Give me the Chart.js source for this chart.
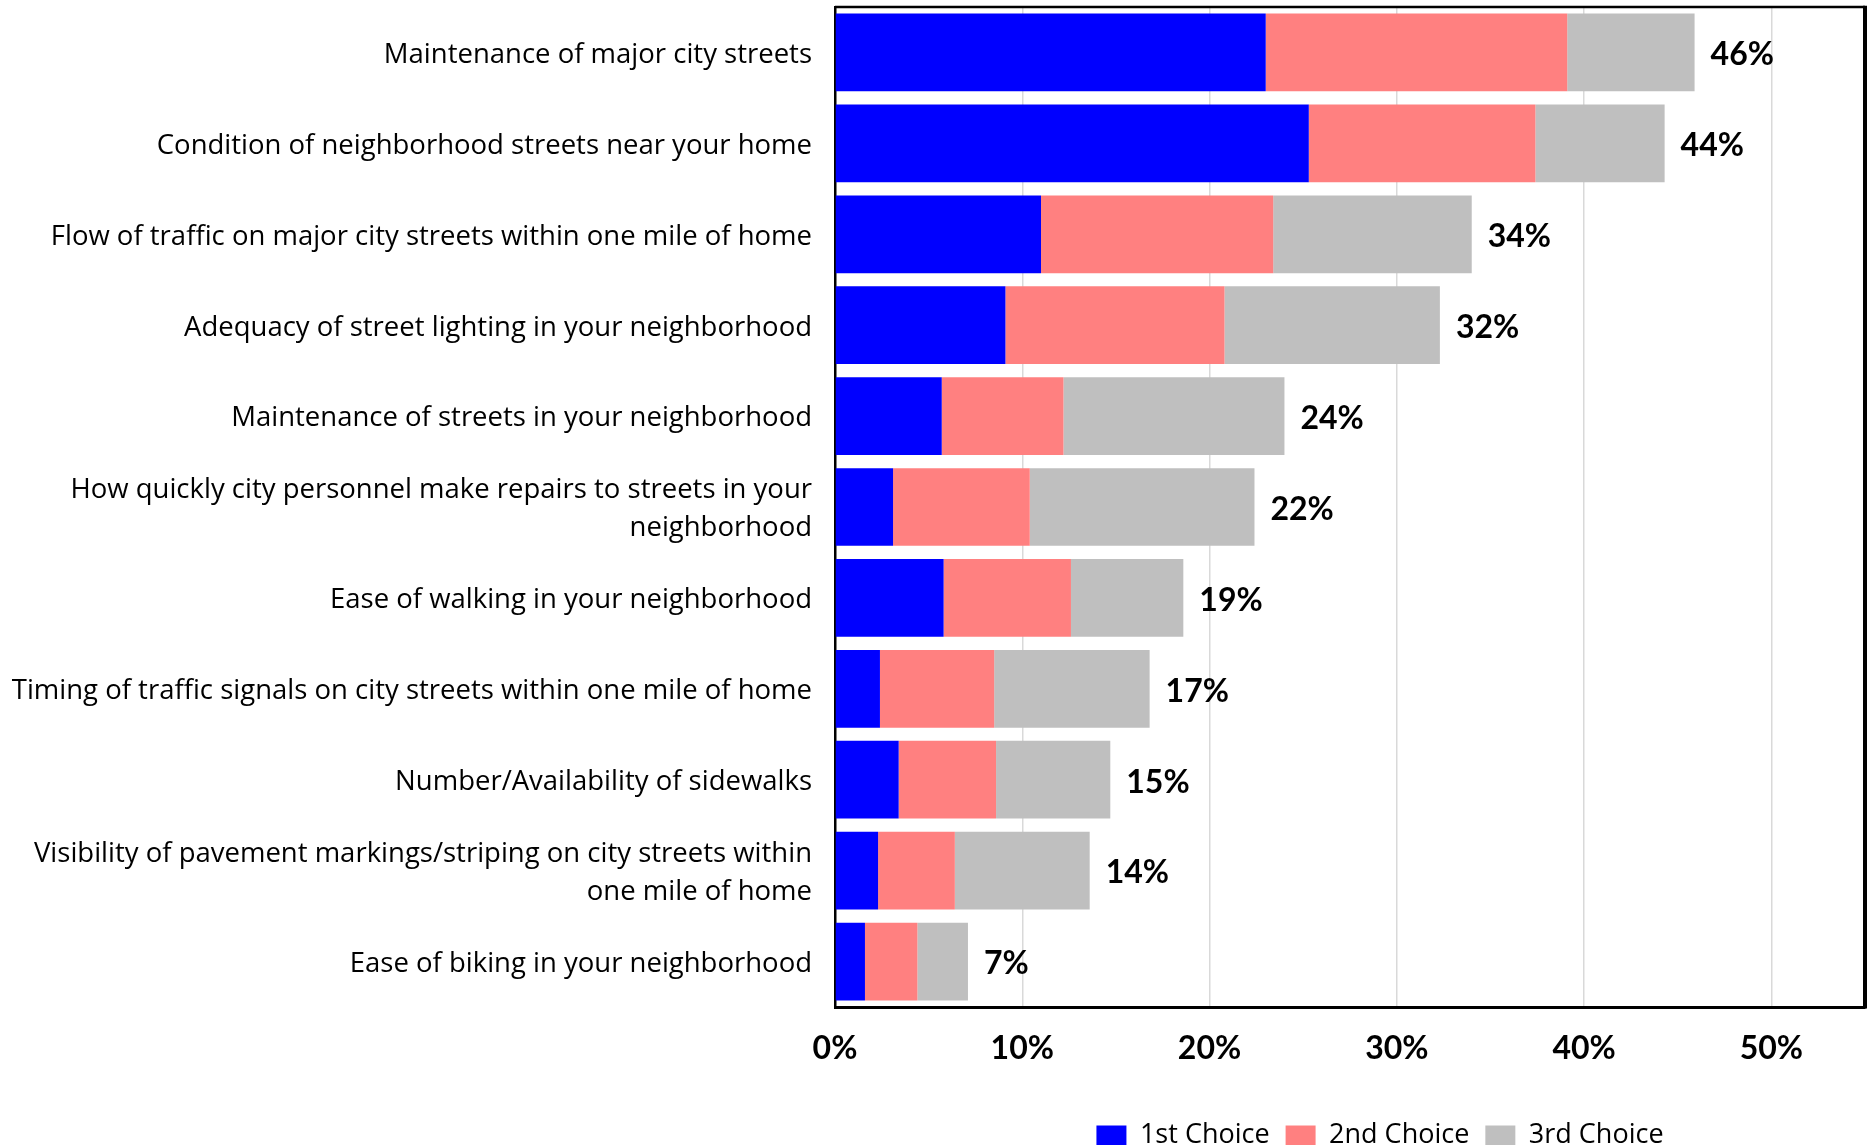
<!DOCTYPE html>
<html lang="en">
<head>
<meta charset="UTF-8">
<title>Street Priorities</title>
<script src="https://cdn.jsdelivr.net/npm/chart.js"></script>
<style>
    html, body { margin: 0; padding: 0; background: #ffffff; }
    .wrap { width: 1870px; height: 1145px; position: relative; }
</style>
</head>
<body>
<div class="wrap"><canvas id="chart"></canvas></div>
<script>
// Street items, top to bottom
const categories = [
    'Maintenance of major city streets',
    'Condition of neighborhood streets near your home',
    'Flow of traffic on major city streets within one mile of home',
    'Adequacy of street lighting in your neighborhood',
    'Maintenance of streets in your neighborhood',
    ['How quickly city personnel make repairs to streets in your', 'neighborhood'],
    'Ease of walking in your neighborhood',
    'Timing of traffic signals on city streets within one mile of home',
    'Number/Availability of sidewalks',
    ['Visibility of pavement markings/striping on city streets within', 'one mile of home'],
    'Ease of biking in your neighborhood'
];

// Percent of respondents picking the item as 1st / 2nd / 3rd choice
const firstChoice  = [23.0, 25.3, 11.0, 9.1, 5.7, 3.1, 5.8, 2.4, 3.4, 2.3, 1.6];
const secondChoice = [16.1, 12.1, 12.4, 11.7, 6.5, 7.3, 6.8, 6.1, 5.2, 4.1, 2.8];
const thirdChoice  = [6.8, 6.9, 10.6, 11.5, 11.8, 12.0, 6.0, 8.3, 6.1, 7.2, 2.7];

const seriesNames = ['1st Choice', '2nd Choice', '3rd Choice'];
const xTicks = [0, 10, 20, 30, 40, 50];

const totals = firstChoice.map((v, i) => v + secondChoice[i] + thirdChoice[i]);

const FONT = '"Open Sans", Lato, sans-serif';

// sum label at the end of each stacked bar
const totalLabels = {
    id: 'totalLabels',
    afterDatasetsDraw(chart) {
        const ctx = chart.ctx;
        const meta = chart.getDatasetMeta(2);
        ctx.save();
        ctx.font = 'bold 32px Lato, sans-serif';
        ctx.fillStyle = '#000000';
        ctx.textAlign = 'left';
        ctx.textBaseline = 'middle';
        meta.data.forEach((bar, i) => {
            ctx.fillText(Math.round(totals[i]) + '%', bar.x + 16, bar.y + 2.5);
        });
        ctx.restore();
    }
};

// top and right edges of the plot frame
const plotFrame = {
    id: 'plotFrame',
    afterDraw(chart) {
        const { ctx, chartArea: a } = chart;
        ctx.save();
        ctx.strokeStyle = '#000000';
        ctx.lineWidth = 2.5;
        ctx.beginPath();
        ctx.moveTo(a.left, a.top);
        ctx.lineTo(a.right, a.top);
        ctx.stroke();
        ctx.lineWidth = 4;
        ctx.beginPath();
        ctx.moveTo(a.right, a.top - 1.25);
        ctx.lineTo(a.right, a.bottom + 1.5);
        ctx.stroke();
        ctx.restore();
    }
};

// nudge legend under the plot
const legendShift = {
    id: 'legendShift',
    afterLayout(chart) {
        chart.legend.left += 30;
        chart.legend.right += 30;
    }
};

Chart.defaults.font.family = FONT;
Chart.defaults.color = '#000000';

new Chart(document.getElementById('chart'), {
    type: 'bar',
    data: {
        labels: categories,
        datasets: [
            { label: seriesNames[0], data: firstChoice, backgroundColor: '#0000FF' },
            { label: seriesNames[1], data: secondChoice, backgroundColor: '#FF8080' },
            { label: seriesNames[2], data: thirdChoice, backgroundColor: '#BFBFBF' }
        ]
    },
    options: {
        indexAxis: 'y',
        responsive: true,
        maintainAspectRatio: false,
        animation: false,
        barPercentage: 0.855,
        categoryPercentage: 1,
        layout: { padding: { top: 7, right: 5, bottom: -14, left: 0 } },
        plugins: {
            legend: {
                position: 'bottom',
                fullSize: false,
                labels: {
                    boxWidth: 30,
                    boxHeight: 20,
                    padding: 16,
                    font: { size: 27 },
                    color: '#000000'
                }
            },
            tooltip: { enabled: false }
        },
        scales: {
            x: {
                stacked: true,
                min: 0,
                max: 55,
                afterFit: s => { s.height = 99; },
                afterBuildTicks: s => { s.ticks = xTicks.map(v => ({ value: v })); },
                ticks: {
                    padding: 22,
                    font: { family: 'Lato, sans-serif', size: 32, weight: 'bold' },
                    color: '#000000',
                    callback: v => v + '%'
                },
                grid: { color: '#D9D9D9', lineWidth: 1.5, drawTicks: false },
                border: { display: true, color: '#000000', width: 3 }
            },
            y: {
                stacked: true,
                afterFit: s => {
                    s.width = 835;
                    s.paddingTop = 0;
                    s.paddingBottom = 0;
                },
                ticks: {
                    padding: 15,
                    labelOffset: 2.5,
                    font: { size: 27.5, lineHeight: 1.38 },
                    color: '#000000',
                    autoSkip: false
                },
                grid: { display: false },
                border: { display: true, color: '#000000', width: 2.5 }
            }
        }
    },
    plugins: [totalLabels, plotFrame, legendShift]
});
</script>
</body>
</html>
